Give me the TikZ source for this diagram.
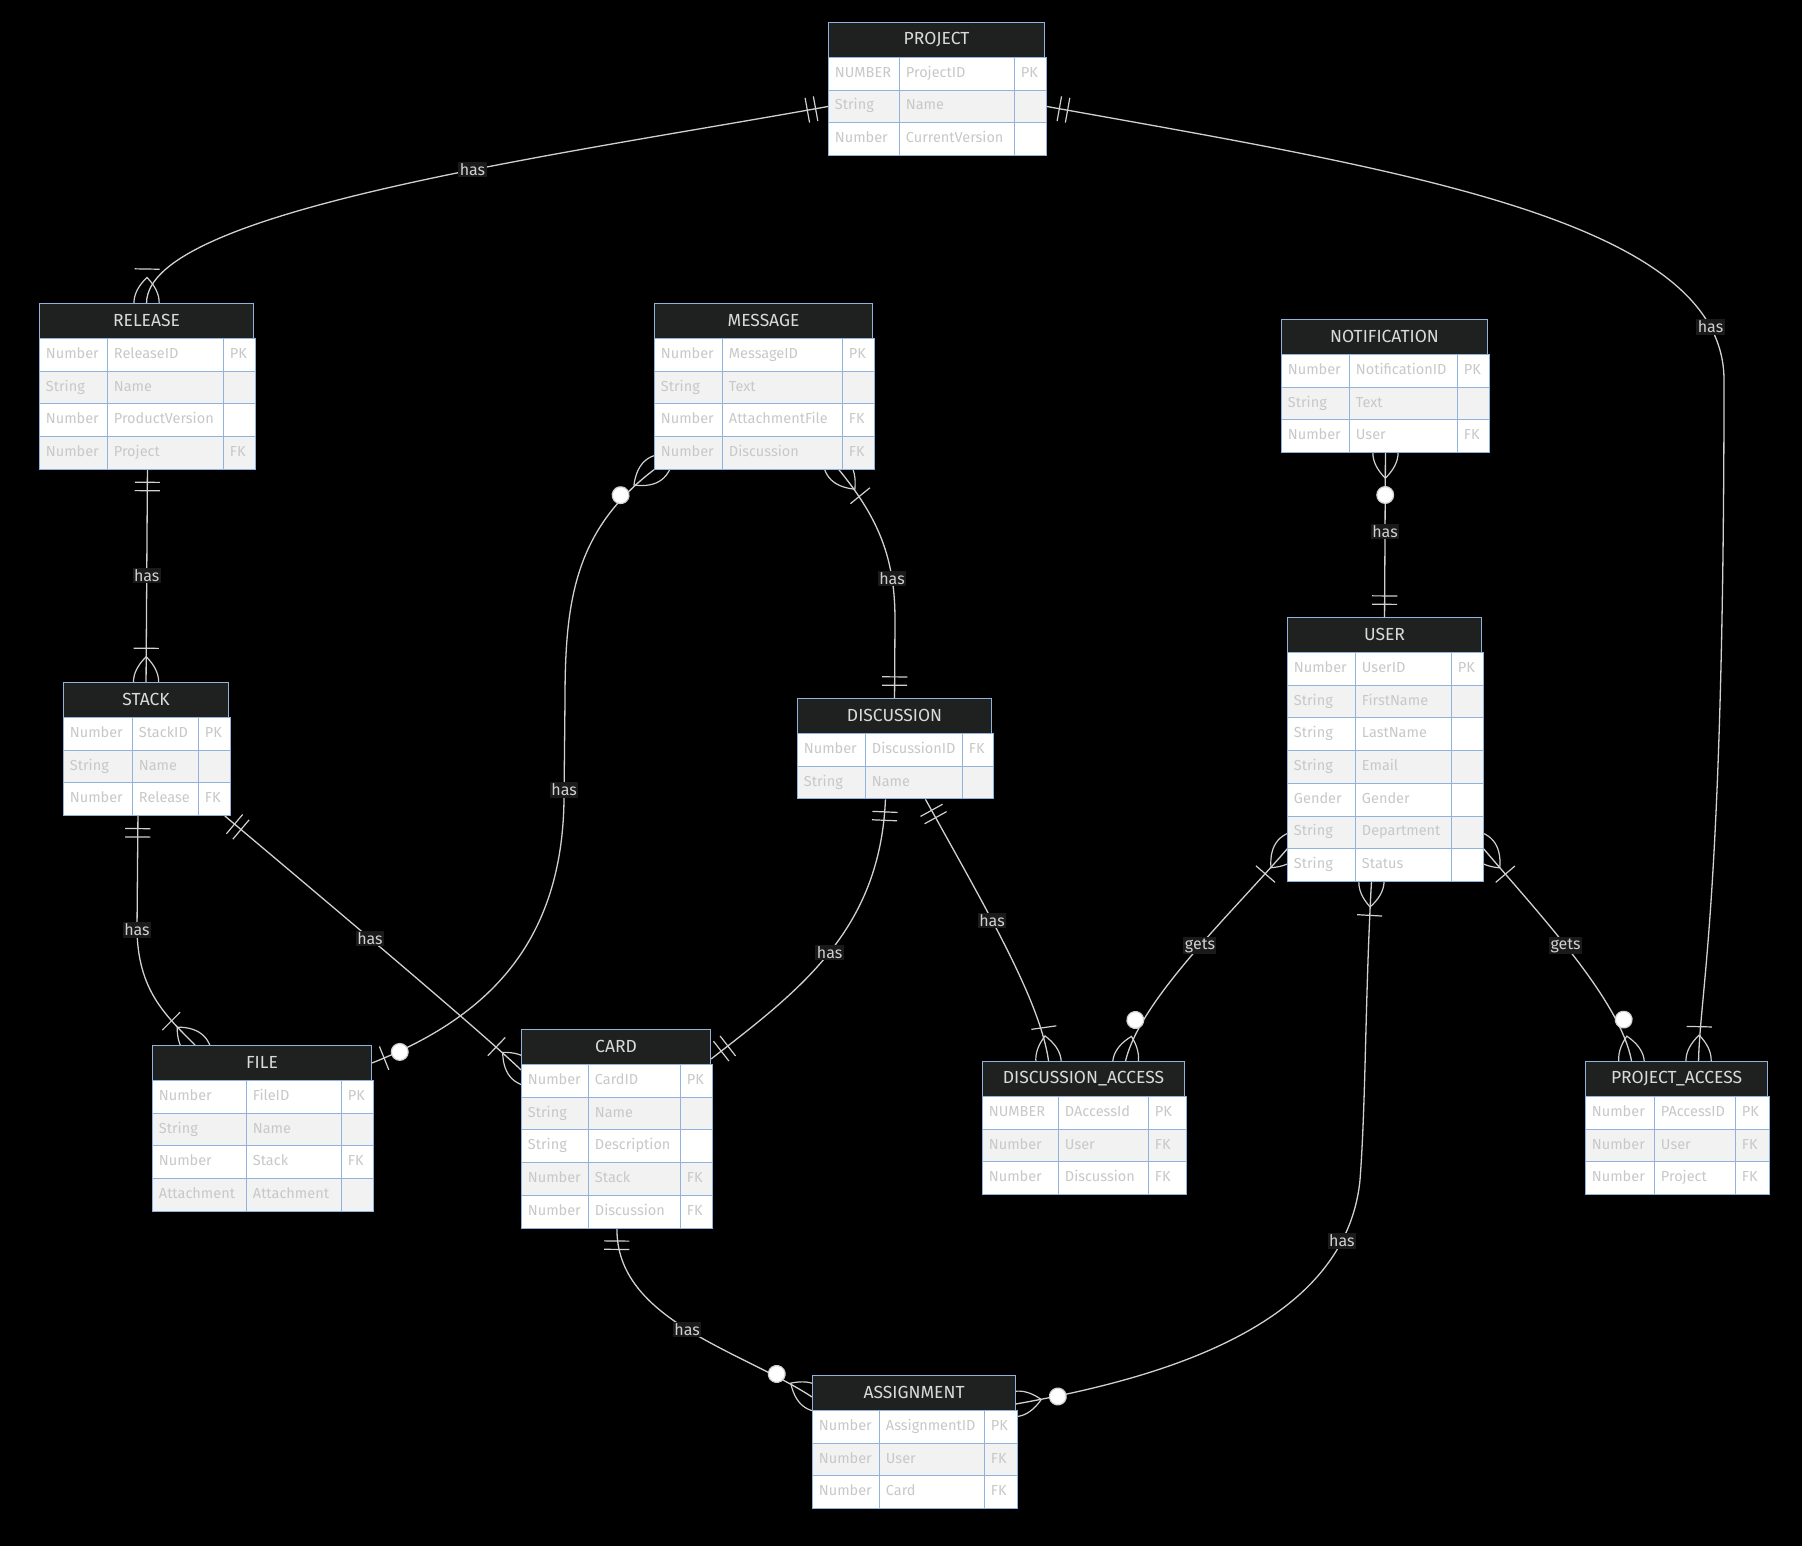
\documentclass[tikz,border=0pt]{standalone}
\usepackage{fontspec}
\setmainfont{Fira Sans}
\usetikzlibrary{matrix,decorations.markings}

\definecolor{headfill}{HTML}{1F2020}
\definecolor{headtext}{HTML}{DADADA}
\definecolor{attrtext}{HTML}{C8C8C8}
\definecolor{rowfill}{HTML}{F2F2F2}
\definecolor{boxblue}{HTML}{8FB3DA}
\definecolor{linecol}{HTML}{D0D0D0}
\definecolor{lblfill}{HTML}{1A1A1A}
\definecolor{lbltext}{HTML}{D0D0D0}

\pgfdeclarelayer{back}
\pgfdeclarelayer{edges}
\pgfsetlayers{back,edges,main}

\newcommand\attrfont{\fontsize{14.5}{17}\selectfont\hyphenpenalty=10000 }
\newcommand\headfont{\fontsize{17.5}{20}\selectfont}
\newcommand\lblfont{\fontsize{16}{19}\selectfont}

\tikzset{
  head/.style={draw=boxblue, line width=0.9pt, fill=headfill, text=headtext,
    font=\headfont, minimum height=35pt, inner sep=0pt, anchor=north west},
  attrs/.style={matrix of nodes, nodes in empty cells, anchor=north west,
    inner sep=0pt, outer sep=0pt, row sep=-0.9pt, column sep=-0.9pt,
    nodes={draw=boxblue, line width=0.9pt, fill=white, text=attrtext,
      font=\attrfont, minimum height=32.7pt, inner xsep=6.5pt, inner ysep=0pt,
      text height=10.5pt, text depth=3.5pt, align=left, anchor=center},
    every even row/.style={nodes={fill=rowfill}}},
  rel/.style={draw=linecol, line width=1.3pt},
  mk/.style={draw=linecol, line width=1.2pt},
  lbl/.style={fill=lblfill, text=lbltext, font=\lblfont, inner sep=1.5pt},
  mstart/.style={postaction={decorate, decoration={markings,
    mark=at position 0 with {#1}}}},
  mend/.style={postaction={decorate, decoration={markings,
    mark=at position 0.9995 with {\pgftransformxscale{-1}#1}}}}
}

% crow's foot ends, x runs away from the entity
\newcommand\mkone{\draw[mk] (12.6pt,-12.6pt) -- (12.6pt,12.6pt)
  (21pt,-12.6pt) -- (21pt,12.6pt);}
\newcommand\mkzeroone{\draw[mk] (12.6pt,-12.6pt) -- (12.6pt,12.6pt);
  \draw[mk, fill=white] (29.4pt,0pt) circle (8.4pt);}
\newcommand\mkmany{\draw[mk] (-25.2pt,0pt) .. controls (-8.4pt,16.8pt) and (8.4pt,16.8pt) .. (25.2pt,0pt)
  .. controls (8.4pt,-16.8pt) and (-8.4pt,-16.8pt) .. (-25.2pt,0pt);}
\newcommand\mkonemany{\mkmany \draw[mk] (33.6pt,-12.6pt) -- (33.6pt,12.6pt);}
\newcommand\mkzeromany{\mkmany \draw[mk, fill=white] (42pt,0pt) circle (8.4pt);}

% entity: name, top left, title, three column widths, rows
\newcommand\entity[7]{%
  \pgfmathsetmacro\entwa{#4-13}%
  \pgfmathsetmacro\entwb{#5-13}%
  \pgfmathsetmacro\entwc{#6-13}%
  \pgfmathsetmacro\entwh{#4+#5+#6-1.8}%
  \node[head, minimum width=\entwh pt] (#1) at (#2) {#3};
  \matrix (#1-a) [attrs, ampersand replacement=\&,
    column 1/.style={nodes={text width=\entwa pt}},
    column 2/.style={nodes={text width=\entwb pt}},
    column 3/.style={nodes={text width=\entwc pt}}]
    at ([yshift=0.9pt]#1.south west) {#7};
}

\begin{document}
\begin{tikzpicture}[x=1pt,y=-1pt]

\begin{pgfonlayer}{back}
  \fill[black] (0,0) rectangle (1802,1546);
\end{pgfonlayer}
\useasboundingbox (0,0) rectangle (1802,1546);

\entity{project}{828,22}{PROJECT}{71}{115}{32}{
  NUMBER \& ProjectID \& PK \\
  String \& Name \& \\
  Number \& CurrentVersion \& \\
}
\entity{release}{39,303}{RELEASE}{68}{116}{32}{
  Number \& ReleaseID \& PK \\
  String \& Name \& \\
  Number \& ProductVersion \& \\
  Number \& Project \& FK \\
}
\entity{message}{654,303}{MESSAGE}{68}{120}{32}{
  Number \& MessageID \& PK \\
  String \& Text \& \\
  Number \& AttachmentFile \& FK \\
  Number \& Discussion \& FK \\
}
\entity{notification}{1281,319}{NOTIFICATION}{68}{108}{32}{
  Number \& NotificationID \& PK \\
  String \& Text \& \\
  Number \& User \& FK \\
}
\entity{user}{1287,617}{USER}{68}{96}{32}{
  Number \& UserID \& PK \\
  String \& FirstName \& \\
  String \& LastName \& \\
  String \& Email \& \\
  Gender \& Gender \& \\
  String \& Department \& \\
  String \& Status \& \\
}
\entity{stack}{63,682}{STACK}{69}{66}{32}{
  Number \& StackID \& PK \\
  String \& Name \& \\
  Number \& Release \& FK \\
}
\entity{discussion}{797,698}{DISCUSSION}{68}{97}{31}{
  Number \& DiscussionID \& FK \\
  String \& Name \& \\
}
\entity{file}{152,1045}{FILE}{94}{95}{32}{
  Number \& FileID \& PK \\
  String \& Name \& \\
  Number \& Stack \& FK \\
  Attachment \& Attachment \& \\
}
\entity{card}{521,1029}{CARD}{67}{92}{32}{
  Number \& CardID \& PK \\
  String \& Name \& \\
  String \& Description \& \\
  Number \& Stack \& FK \\
  Number \& Discussion \& FK \\
}
\entity{da}{982,1061}{DISCUSSION\_ACCESS}{76}{90}{38}{
  NUMBER \& DAccessId \& PK \\
  Number \& User \& FK \\
  Number \& Discussion \& FK \\
}
\entity{pa}{1585,1061}{PROJECT\_ACCESS}{69}{81}{34}{
  Number \& PAccessID \& PK \\
  Number \& User \& FK \\
  Number \& Project \& FK \\
}
\entity{assignment}{812,1375}{ASSIGNMENT}{67}{105}{33}{
  Number \& AssignmentID \& PK \\
  Number \& User \& FK \\
  Number \& Card \& FK \\
}

\begin{pgfonlayer}{edges}
  % project
  \draw[rel, mstart=\mkone, mend=\mkonemany] (project-a.west)
    .. controls (560,155) and (147,210) .. (release.north) node[lbl,pos=0.4]{has};
  \draw[rel, mstart=\mkone, mend=\mkonemany] (project-a.east)
    .. controls (1400,170) and (1724,220) .. (1724,380) node[lbl,pos=0.88]{has}
    .. controls (1724,900) and (1700,990) .. ([xshift=22pt]pa.north);
  % release, stack
  \draw[rel, mstart=\mkone, mend=\mkonemany] (release-a.south) -- (stack.north)
    node[lbl,midway]{has};
  \draw[rel, mstart=\mkone, mend=\mkonemany] ([xshift=-9pt]stack-a.south)
    -- (137,930) node[lbl]{has}
    .. controls (138,990) and (165,1015) .. ([xshift=-67pt]file.north);
  \draw[rel, mstart=\mkone, mend=\mkonemany] ([xshift=-6pt]stack-a.south east)
    .. controls (420,980) and (495,1045) .. ([yshift=-5pt]card.south west)
    node[lbl,pos=0.3]{has};
  % message
  \draw[rel, mstart=\mkzeromany, mend=\mkzeroone] (message-a.south west)
    .. controls (575,530) and (565,600) .. (565,700) -- (564,800) node[lbl,pos=0.9]{has}
    .. controls (562,950) and (480,1020) .. (file.east);
  \draw[rel, mstart=\mkonemany, mend=\mkone] ([xshift=-36pt]message-a.south east)
    .. controls (880,520) and (895,560) .. (895,620) node[lbl,pos=0.75]{has}
    -- (discussion.north);
  % notification
  \draw[rel, mstart=\mkzeromany, mend=\mkone] (notification-a.south) -- (user.north)
    node[lbl,pos=0.48]{has};
  % discussion
  \draw[rel, mstart=\mkone, mend=\mkone] ([xshift=-10pt]discussion-a.south)
    .. controls (880,930) and (800,990) .. ([yshift=-12pt]card.east)
    node[lbl,pos=0.5]{has};
  \draw[rel, mstart=\mkone, mend=\mkonemany] ([xshift=30pt]discussion-a.south)
    .. controls (985,907) and (1040,1000) .. ([xshift=-35pt]da.north)
    node[lbl,pos=0.4]{has};
  % user
  \draw[rel, mstart=\mkonemany, mend=\mkzeromany] (user-a-7-1.north west)
    .. controls (1230,915) and (1140,1000) .. ([xshift=42pt]da.north)
    node[lbl,pos=0.45]{gets};
  \draw[rel, mstart=\mkonemany, mend=\mkzeromany] (user-a-7-3.north east)
    .. controls (1540,915) and (1620,1000) .. ([xshift=-45pt]pa.north)
    node[lbl,pos=0.45]{gets};
  \draw[rel, mstart=\mkonemany, mend=\mkzeromany] ([xshift=-14pt]user-a.south)
    .. controls (1365,1000) and (1366,1100) .. (1360,1180)
    .. controls (1345,1330) and (1150,1380) .. ([yshift=-11pt]assignment.east)
    node[lbl,pos=0.15]{has};
  % card
  \draw[rel, mstart=\mkone, mend=\mkzeromany] (card-a.south)
    .. controls (616,1320) and (740,1350) .. ([yshift=-4pt]assignment.west)
    node[lbl,pos=0.5]{has};
\end{pgfonlayer}

\end{tikzpicture}
\end{document}
